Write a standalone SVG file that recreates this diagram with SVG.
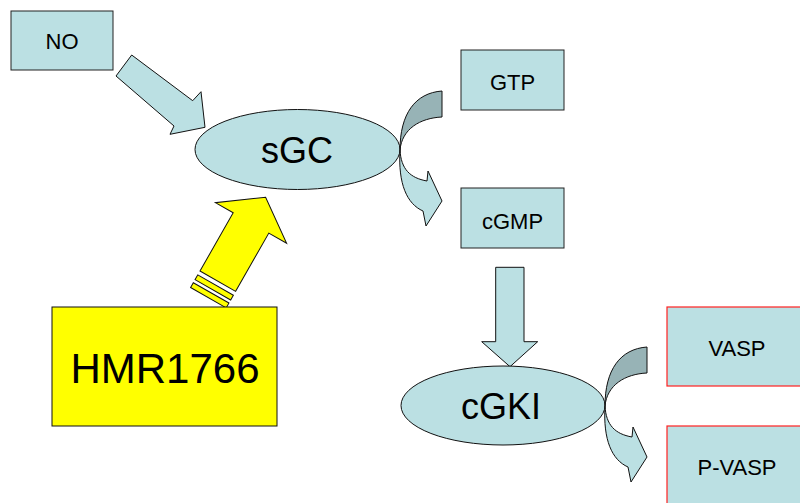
<svg xmlns="http://www.w3.org/2000/svg" xmlns:xlink="http://www.w3.org/1999/xlink" width="800" height="503" viewBox="0 0 800 503">
  <style>
    .box { fill: #BBE0E3; stroke: #222; stroke-width: 1; }
    .redbox { fill: #BBE0E3; stroke: #FF2020; stroke-width: 1.2; }
    .oval { fill: #BBE0E3; stroke: #111; stroke-width: 1; }
    .blk { fill: #BBE0E3; stroke: #111; stroke-width: 1; stroke-linejoin: miter; }
    .back { fill: #97B3B6; stroke: #111; stroke-width: 1; }
    .yel { fill: #FFFF00; stroke: #111; stroke-width: 1; }
    .lbl { font-family: "Liberation Sans", Arial, sans-serif; fill: #000; text-anchor: middle; }
    .s { font-size: 22px; }
    .l { font-size: 36px; }
    .xl { font-size: 42px; }
  </style>
  <defs>
    <!-- curved ribbon arrow; origin at the crossing point on the ellipse edge -->
    <g id="curl">
      <path class="blk" d="M0,0 C1,19 10,28 27,31 L28,21 L42,51 L26,76 L23,61 C7,54 -2,34 0,0 Z"/>
      <path class="back" d="M42,-59 C15,-57 0,-36 0,0 C2,-21 20,-32 42,-33 Z"/>
    </g>
  </defs>

  <!-- connectors -->
  <g id="connectors">
    <polygon class="blk" points="131.7,55 192.7,100.7 201,91.7 205,127.3 170,134.3 174,126 116,76"/>
    <polygon class="blk" points="495.7,267.3 524,267.3 524,341.7 537.7,341.7 510,366.7 481.7,341.7 495.7,341.7"/>
    <g transform="translate(200,271) rotate(29.7)">
      <polygon class="yel" points="0,0 0,-67 -20.5,-67 20.5,-96.5 61.5,-67 41,-67 41,0"/>
      <rect class="yel" x="0" y="4.5" width="41" height="5.5"/>
      <rect class="yel" x="0" y="13.5" width="41" height="5.5"/>
    </g>
  </g>

  <g id="no">
    <rect class="box" x="11" y="11" width="102" height="59"/>
    <text class="lbl s" x="62" y="49">NO</text>
  </g>

  <g id="gtp">
    <rect class="box" x="461" y="50" width="103" height="60"/>
    <text class="lbl s" x="512.5" y="90">GTP</text>
  </g>

  <g id="cgmp">
    <rect class="box" x="461" y="188" width="103" height="60"/>
    <text class="lbl s" x="512.5" y="229">cGMP</text>
  </g>

  <g id="vasp">
    <rect class="redbox" x="667" y="307" width="140" height="79"/>
    <text class="lbl s" x="737" y="356">VASP</text>
  </g>

  <g id="pvasp">
    <rect class="redbox" x="667" y="426" width="140" height="90"/>
    <text class="lbl s" x="737" y="475">P-VASP</text>
  </g>

  <g id="hmr1766">
    <rect class="yel" x="52" y="307" width="225" height="119"/>
    <text class="lbl xl" x="165" y="383">HMR1766</text>
  </g>

  <g id="sgc">
    <ellipse class="oval" cx="297.5" cy="149.5" rx="102.5" ry="40"/>
    <text class="lbl l" x="297" y="163">sGC</text>
    <use xlink:href="#curl" href="#curl" x="400" y="150"/>
  </g>

  <g id="cgki">
    <ellipse class="oval" cx="503" cy="405.5" rx="102" ry="39.5"/>
    <text class="lbl l" x="501" y="419">cGKI</text>
    <use xlink:href="#curl" href="#curl" x="605" y="406"/>
  </g>
</svg>
